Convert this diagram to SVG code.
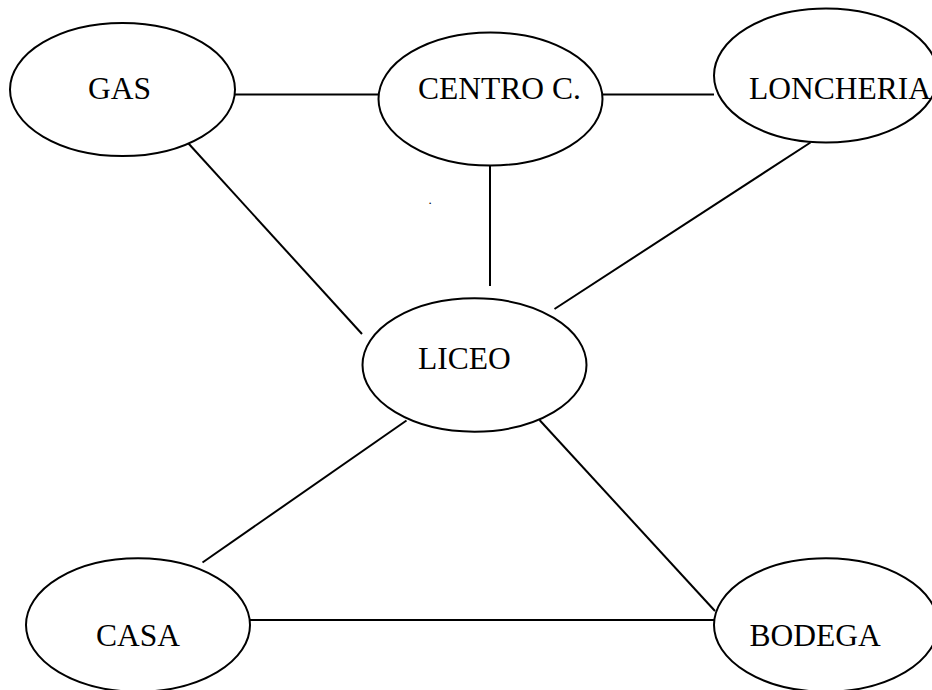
<svg xmlns="http://www.w3.org/2000/svg" width="932" height="690" viewBox="0 0 932 690">
<style>
.n ellipse{fill:#fff;stroke:#000;stroke-width:2}
.n text{font-family:"Liberation Serif","Times New Roman",serif;font-size:31.5px;fill:#000}
#edges line{stroke:#000;stroke-width:2}
</style>
<rect width="932" height="690" fill="#fff"/>
<g id="edges">
<line x1="235" y1="94.5" x2="378" y2="94.5"/>
<line x1="603" y1="94.5" x2="714" y2="94.5"/>
<line x1="188.5" y1="143.5" x2="362" y2="334"/>
<line x1="490" y1="166" x2="490" y2="286"/>
<line x1="810.5" y1="142.5" x2="554.5" y2="309"/>
<line x1="406.5" y1="420.5" x2="202.5" y2="562.5"/>
<line x1="539.5" y1="420" x2="715" y2="611"/>
<line x1="250" y1="620" x2="714" y2="620"/>
</g>
<g id="gas" class="n"><ellipse cx="122.5" cy="89.5" rx="112.5" ry="66.5"/><text x="88" y="99">GAS</text></g>
<g id="centro" class="n"><ellipse cx="490.5" cy="99" rx="112" ry="66.5"/><text x="418" y="99">CENTRO C.</text></g>
<g id="loncheria" class="n"><ellipse cx="826" cy="75.5" rx="112" ry="67"/><text x="749" y="99">LONCHERIA</text></g>
<g id="liceo" class="n"><ellipse cx="474.5" cy="365" rx="112" ry="66.7"/><text x="418" y="369">LICEO</text></g>
<g id="casa" class="n"><ellipse cx="138" cy="625" rx="112" ry="66.7"/><text x="96" y="645.5">CASA</text></g>
<g id="bodega" class="n"><ellipse cx="826" cy="625" rx="112" ry="66.7"/><text x="749.5" y="645.5">BODEGA</text></g>
<text x="428.5" y="204" font-family="Liberation Serif, serif" font-size="13" fill="#000">.</text>
</svg>
